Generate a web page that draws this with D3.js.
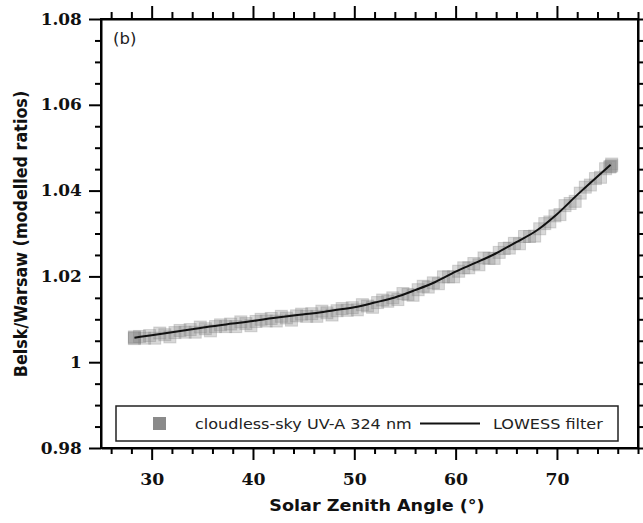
<!DOCTYPE html>
<html><head><meta charset="utf-8">
<script src="https://cdn.jsdelivr.net/npm/d3@7"></script>
<style>html,body{margin:0;padding:0;background:#fff;}</style>
</head><body>
<svg id="chart" width="643" height="523"></svg>
<script>
// ---- data ----
const xTicks = [30, 40, 50, 60, 70];
const yTicks = [0.98, 1, 1.02, 1.04, 1.06, 1.08];
const yTickLabels = ["0.98", "1", "1.02", "1.04", "1.06", "1.08"];

const scatterSza = [28.3,28.8,29.3,29.8,30.3,30.8,31.3,31.8,32.3,32.8,33.3,33.8,34.3,34.8,35.3,35.8,36.3,36.8,37.3,37.8,
  38.3,38.8,39.3,39.8,40.3,40.8,41.3,41.8,42.3,42.8,43.3,43.8,44.3,44.8,45.3,45.8,46.3,46.8,47.3,47.8,
  48.3,48.8,49.3,49.8,50.3,50.8,51.3,51.8,52.3,52.8,53.3,53.8,54.3,54.8,55.3,55.8,56.3,56.8,57.3,57.8,
  58.3,58.8,59.3,59.8,60.3,60.8,61.3,61.8,62.3,62.8,63.3,63.8,64.3,64.8,65.3,65.8,66.3,66.8,67.3,67.8,
  68.3,68.8,69.3,69.8,70.3,70.8,71.3,71.8,72.3,72.8,73.3,73.8,74.3,74.8,75.3,
  28.3,28.3,75.4,75.4,75.2];
const scatterRatio = [1.0055,1.0060,1.0056,1.0062,1.0056,1.0068,1.0064,1.0059,1.0069,1.0074,1.0070,1.0076,1.0070,1.0082,1.0078,1.0073,1.0083,1.0087,1.0083,1.0089,
  1.0083,1.0094,1.0090,1.0085,1.0095,1.0100,1.0096,1.0102,1.0096,1.0107,1.0103,1.0098,1.0108,1.0112,1.0107,1.0113,1.0107,1.0119,1.0115,1.0110,
  1.0120,1.0125,1.0121,1.0127,1.0122,1.0134,1.0131,1.0128,1.0139,1.0145,1.0142,1.0150,1.0146,1.0160,1.0158,1.0156,1.0169,1.0177,1.0175,1.0185,
  1.0183,1.0199,1.0199,1.0199,1.0212,1.0220,1.0220,1.0230,1.0227,1.0243,1.0242,1.0242,1.0256,1.0265,1.0266,1.0277,1.0276,1.0293,1.0293,1.0294,
  1.0311,1.0323,1.0327,1.0341,1.0344,1.0365,1.0370,1.0375,1.0394,1.0408,1.0413,1.0428,1.0431,1.0451,1.0456,
  1.0057,1.0059,1.0462,1.0458,1.0455];

const lowessSza = [28.3,30,32,34,36,38,40,42,44,46,48,50,52,54,56,58,60,62,64,66,68,70,72,74,75.3];
const lowessRatio = [1.0057,1.0063,1.0070,1.0077,1.0084,1.0090,1.0096,1.0103,1.0109,1.0114,1.0121,1.0128,1.0139,1.0151,1.0168,1.0187,1.0211,1.0232,1.0254,1.0280,1.0307,1.0345,1.0390,1.0433,1.0460];

const legendLabels = ["cloudless-sky UV-A 324 nm", "LOWESS filter"];

// ---- layout ----
const svg = d3.select("#chart");
const m = {left: 101, right: 638, top: 19, bottom: 448};
const x = d3.scaleLinear().domain([25, 78]).range([m.left, m.right]);
const y = d3.scaleLinear().domain([0.98, 1.08]).range([m.bottom, m.top]);
const pointColor = "#808080";
const stretch = 1.1; // text in the reference is slightly wider than tall

// scatter
const pts = scatterSza.map((s, i) => [s, scatterRatio[i]]);
const sq = 12;
svg.append("g").selectAll("rect").data(pts).join("rect")
  .attr("x", d => x(d[0]) - sq/2).attr("y", d => y(d[1]) - sq/2)
  .attr("width", sq).attr("height", sq)
  .attr("fill", pointColor).attr("fill-opacity", 0.3)
  .attr("stroke", pointColor).attr("stroke-opacity", 0.3).attr("stroke-width", 1);

// lowess line
const lw = lowessSza.map((s, i) => [s, lowessRatio[i]]);
svg.append("path").datum(lw)
  .attr("d", d3.line().x(d => x(d[0])).y(d => y(d[1])).curve(d3.curveMonotoneX))
  .attr("fill", "none").attr("stroke", "#111").attr("stroke-width", 2);

// axes
const tickFont = "'DejaVu Serif', serif";
function styleAxis(g) {
  g.selectAll(".domain").attr("stroke", "#000").attr("stroke-width", 2);
  g.selectAll(".tick line").attr("stroke", "#000").attr("stroke-width", 2);
  g.selectAll("text").attr("font-family", tickFont).attr("font-weight", "bold").attr("font-size", 16).attr("fill", "#111");
}
const xMinor = d3.range(26, 78.01, 2).filter(v => v % 10 !== 0);
const yMinor = d3.range(0, 21).map(i => 0.98 + i * 0.005).filter((v, i) => i % 4 !== 0);

// bottom
const gb = svg.append("g").attr("transform", `translate(0,${m.bottom})`)
  .call(d3.axisBottom(x).tickValues(xTicks).tickFormat(d3.format("d")).tickSize(12).tickSizeOuter(0).tickPadding(14));
styleAxis(gb);
gb.selectAll(".tick text").attr("transform", "scale(1.08,1)");
const gbm = svg.append("g").attr("transform", `translate(0,${m.bottom})`)
  .call(d3.axisBottom(x).tickValues(xMinor).tickFormat("").tickSize(6).tickSizeOuter(0));
styleAxis(gbm); gbm.select(".domain").remove();
// top
const gt = svg.append("g").attr("transform", `translate(0,${m.top})`)
  .call(d3.axisTop(x).tickValues(xTicks).tickFormat("").tickSize(13).tickSizeOuter(0));
styleAxis(gt);
const gtm = svg.append("g").attr("transform", `translate(0,${m.top})`)
  .call(d3.axisTop(x).tickValues(xMinor).tickFormat("").tickSize(7).tickSizeOuter(0));
styleAxis(gtm); gtm.select(".domain").remove();
// left
const gl = svg.append("g").attr("transform", `translate(${m.left},0)`)
  .call(d3.axisLeft(y).tickValues(yTicks).tickFormat((d, i) => yTickLabels[i]).tickSize(12).tickSizeOuter(0).tickPadding(6));
styleAxis(gl);
gl.selectAll(".tick text").attr("transform", "scale(1.06,1)");
const glm = svg.append("g").attr("transform", `translate(${m.left},0)`)
  .call(d3.axisLeft(y).tickValues(yMinor).tickFormat("").tickSize(6).tickSizeOuter(0));
styleAxis(glm); glm.select(".domain").remove();
// right
const gr = svg.append("g").attr("transform", `translate(${m.right},0)`)
  .call(d3.axisRight(y).tickValues(yTicks).tickFormat("").tickSize(12).tickSizeOuter(0));
styleAxis(gr);
const grm = svg.append("g").attr("transform", `translate(${m.right},0)`)
  .call(d3.axisRight(y).tickValues(yMinor).tickFormat("").tickSize(6).tickSizeOuter(0));
styleAxis(grm); grm.select(".domain").remove();

// frame
svg.append("rect").attr("x", m.left).attr("y", m.top).attr("width", m.right - m.left).attr("height", m.bottom - m.top)
  .attr("fill", "none").attr("stroke", "#000").attr("stroke-width", 2);

// titles
const sans = "'DejaVu Sans', sans-serif";
svg.append("text").attr("transform", `translate(377,511) scale(${stretch},1)`).attr("text-anchor", "middle")
  .attr("font-family", sans).attr("font-weight", "bold").attr("font-size", 16).attr("fill", "#111")
  .text("Solar Zenith Angle (°)");
svg.append("text").attr("transform", `translate(27,234) scale(${stretch},1) rotate(-90)`).attr("text-anchor", "middle")
  .attr("font-family", sans).attr("font-weight", "bold").attr("font-size", 16).attr("fill", "#111")
  .text("Belsk/Warsaw (modelled ratios)");
svg.append("text").attr("transform", `translate(113,44) scale(${stretch},1)`)
  .attr("font-family", sans).attr("font-size", 15).attr("fill", "#222").text("(b)");

// legend
const lg = svg.append("g");
lg.append("rect").attr("x", 116).attr("y", 406).attr("width", 502).attr("height", 35)
  .attr("fill", "#fff").attr("stroke", "#222").attr("stroke-width", 1.5);
lg.append("rect").attr("x", 153).attr("y", 417).attr("width", 13).attr("height", 13).attr("fill", "#8a8a8a");
lg.append("text").attr("transform", `translate(195,428.5) scale(${stretch},1)`).attr("font-family", sans).attr("font-size", 14.6).attr("fill", "#222").text(legendLabels[0]);
lg.append("line").attr("x1", 420).attr("x2", 480).attr("y1", 423.5).attr("y2", 423.5).attr("stroke", "#111").attr("stroke-width", 2);
lg.append("text").attr("transform", `translate(493,428.5) scale(${stretch},1)`).attr("font-family", sans).attr("font-size", 14.6).attr("fill", "#222").text(legendLabels[1]);
</script>
</body></html>
